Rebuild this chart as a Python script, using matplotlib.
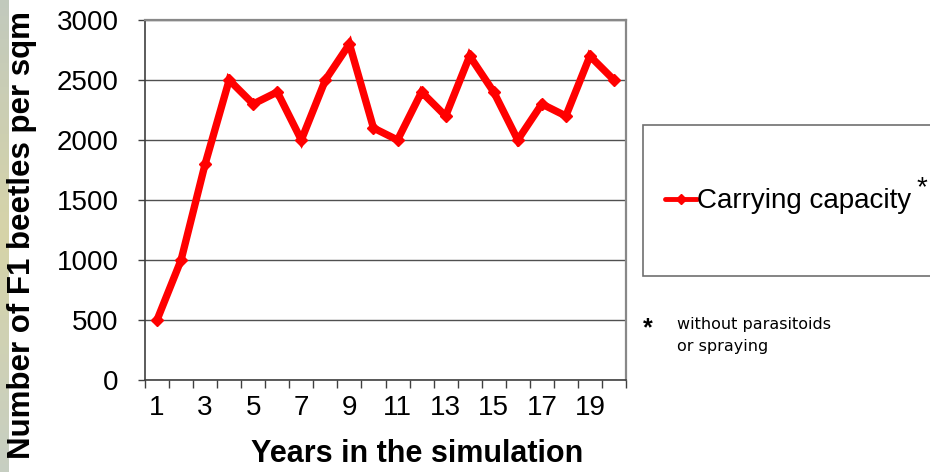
import matplotlib.pyplot as plt
import numpy as np
from matplotlib.patches import Rectangle
from matplotlib.lines import Line2D

# F1 beetle density per square metre over the simulation years
years = np.arange(1, 21)
beetles = [500, 1000, 1800, 2500, 2300, 2400, 2000, 2500, 2800, 2100,
           2000, 2400, 2200, 2700, 2400, 2000, 2300, 2200, 2700, 2500]
year_labels = [str(y) for y in range(1, 20, 2)]
y_ticks = [0, 500, 1000, 1500, 2000, 2500, 3000]

plt.rcParams['font.family'] = ['Liberation Sans', 'DejaVu Sans']

W, H = 930, 472
fig = plt.figure(figsize=(W / 100, H / 100), dpi=100)

# slide background peeking in at the left edge
strip = fig.add_axes([0, 0, 8 / W, 1])
grad = np.linspace(0, 1, 60)[:, None]
cols = np.array([[0.76, 0.79, 0.74], [0.84, 0.83, 0.66], [0.78, 0.81, 0.76]])
img = np.concatenate([np.interp(grad, [0, 0.5, 1], cols[:, i])[..., None] for i in range(3)], axis=2)
strip.imshow(img, aspect='auto', extent=[0, 1, 0, 1])
strip.axis('off')

ax = fig.add_axes([145 / W, (H - 380) / H, 481 / W, 360 / H])

ax.plot(years, beetles, color='#ff0000', lw=5.3, marker='D', markersize=6,
        solid_joinstyle='miter', zorder=3, clip_on=False)

ax.set_xlim(0.5, 20.5)
ax.set_ylim(0, 3000)

# tick marks sit between categories, labels on odd years
ax.set_xticks(np.arange(0.5, 21, 1))
ax.set_xticklabels([])
ax.set_xticks(range(1, 20, 2), minor=True)
ax.set_xticklabels(year_labels, minor=True)
ax.tick_params(axis='x', which='major', direction='out', length=6, width=1, color='#404040')
ax.tick_params(axis='x', which='minor', length=0, pad=11, labelsize=20)

ax.set_yticks(y_ticks)
ax.tick_params(axis='y', direction='out', length=5, width=1, color='#404040',
               pad=14, labelsize=20)

ax.grid(axis='y', color='#505050', lw=1)
ax.set_axisbelow(True)

for side in ['top', 'right']:
    ax.spines[side].set_color('#888888')
    ax.spines[side].set_linewidth(1.6)
for side in ['left', 'bottom']:
    ax.spines[side].set_color('#404040')
    ax.spines[side].set_linewidth(1.2)

ax.set_xlabel('Years in the simulation', fontsize=22, fontweight='bold')
ax.xaxis.set_label_coords(0.565, -0.165)
ax.set_ylabel('Number of F1 beetles per sqm', fontsize=22.5, fontweight='bold')
ax.yaxis.set_label_coords(-0.225, 0.403)

# legend box, drawn by hand so it can run off the right edge
fig.patches.append(Rectangle((643 / W, 1 - 276 / H), 300 / W, 151 / H,
                             transform=fig.transFigure, facecolor='white',
                             edgecolor='#707070', lw=1.2))
fig.lines.append(Line2D([665 / W, 697 / W], [1 - 199 / H] * 2, transform=fig.transFigure,
                        color='#ff0000', lw=3.5, solid_capstyle='round'))
fig.lines.append(Line2D([681 / W], [1 - 199 / H], transform=fig.transFigure,
                        color='#ff0000', marker='D', markersize=5))
fig.text(697 / W, 1 - 201 / H, 'Carrying capacity', fontsize=20, va='center', ha='left')
fig.text(917 / W, 1 - 188 / H, '*', fontsize=20, va='center', ha='left')

fig.text(643 / W, 1 - 328 / H, '*', fontsize=18, fontweight='bold', va='center', ha='left')
fig.text(677 / W, 1 - 324 / H, 'without parasitoids', fontsize=11.5,
         family='DejaVu Sans', va='center', ha='left')
fig.text(677 / W, 1 - 347 / H, 'or spraying', fontsize=11.5,
         family='DejaVu Sans', va='center', ha='left')

fig.savefig('out.png', dpi=100)
